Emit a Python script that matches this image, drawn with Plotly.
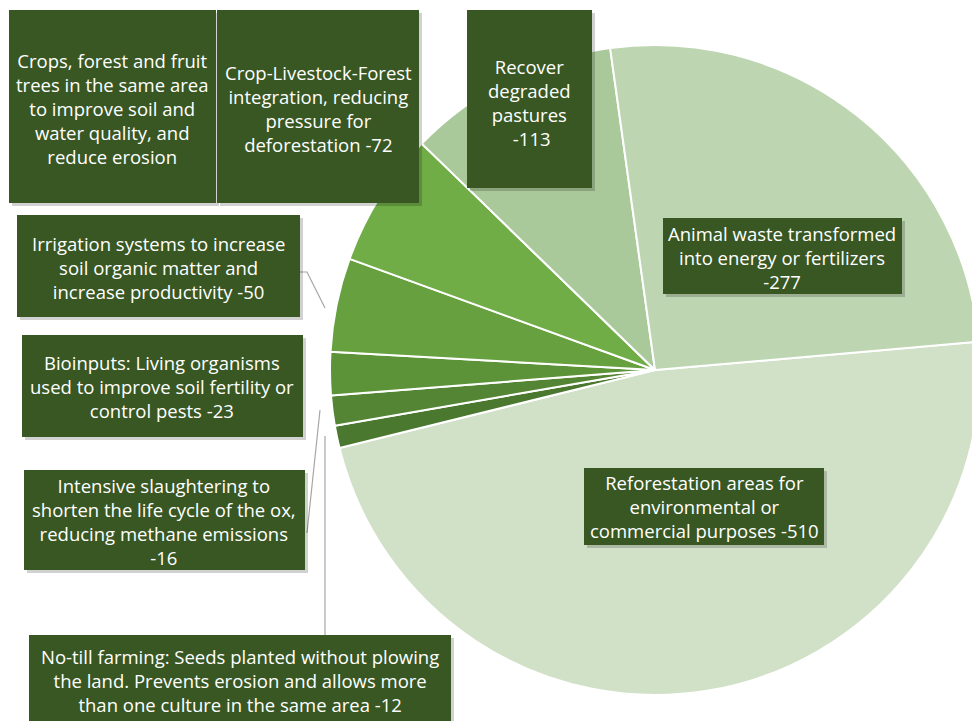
import plotly.graph_objects as go

# ---- data (values in the order drawn, clockwise) ----
categories = [
    "Reforestation areas for environmental or commercial purposes",
    "No-till farming",
    "Intensive slaughtering",
    "Bioinputs",
    "Irrigation systems",
    "Crop-Livestock-Forest integration",
    "Crops, forest and fruit trees in the same area",
    "Recover degraded pastures",
    "Animal waste transformed into energy or fertilizers",
]
values = [510, 12, 16, 23, 50, 72, 0, 113, 277]
colors = ["#d1e1c7", "#4a782e", "#538534", "#5c9338", "#66a03f",
          "#70ad47", "#8fbf72", "#a9c99a", "#bdd5b1"]

label_texts = [
    "Reforestation areas for<br>environmental or<br>commercial purposes -510",
    "No-till farming: Seeds planted without plowing<br>the land. Prevents erosion and allows more<br>than one culture in the same area -12",
    "Intensive slaughtering to<br>shorten the life cycle of the ox,<br>reducing methane emissions<br>-16",
    "Bioinputs: Living organisms<br>used to improve soil fertility or<br>control pests -23",
    "Irrigation systems to increase<br>soil organic matter and<br>increase productivity -50",
    "Crop-Livestock-Forest<br>integration, reducing<br>pressure for<br>deforestation -72",
    "Crops, forest and fruit<br>trees in the same area<br>to improve soil and<br>water quality, and<br>reduce erosion",
    "Recover<br>degraded<br>pastures<br> -113",
    "Animal waste transformed<br>into energy or fertilizers<br>-277",
]

# ---- layout helpers (screen px -> paper; page body has an 8px margin) ----
OFF = 8
W, H = 980 - OFF, 721 - OFF
def px(x):
    return (x - OFF) / W
def py(y):
    return 1 - (y - OFF) / H

CX, CY, R = 655, 370, 325
BOX = "#385723"

fig = go.Figure()
fig.add_trace(go.Pie(
    labels=categories,
    values=values,
    sort=False,
    direction="clockwise",
    rotation=85,
    marker=dict(colors=colors, line=dict(color="white", width=2)),
    textinfo="none",
    hoverinfo="label+value",
    showlegend=False,
    domain=dict(x=[px(CX - R), min(1.0, px(CX + R))], y=[py(CY + R), py(CY - R)]),
))

# label boxes: (x0, y0, x1, y1) in px, text center
boxes = [
    (584, 468, 824, 545),   # Reforestation
    (29, 635, 451, 730),    # No-till
    (24, 470, 305, 570),    # Intensive
    (22, 335, 303, 437),    # Bioinputs
    (17, 215, 300, 317),    # Irrigation
    (217, 10, 419, 203),    # Crop-Livestock-Forest
    (9, 10, 216, 203),      # Crops, forest and fruit trees
    (467, 10, 592, 188),    # Recover pastures
    (663, 218, 902, 294),   # Animal waste
]
text_centers = [
    (704, 507), (240, 680), (164, 521), (162, 386), (158, 267),
    (318, 108), (112, 108), (529, 103), (782, 257),
]

# leader lines (px)
leaders = [
    [(300, 272), (307, 272), (325, 308)],   # Irrigation
    [(307, 533), (320, 410)],               # Intensive
    [(325, 635), (325, 436)],               # No-till
]
for pts in leaders:
    path = "M " + " L ".join(f"{px(x)},{py(y)}" for x, y in pts)
    fig.add_shape(type="path", xref="paper", yref="paper", path=path,
                  line=dict(color="#a6a6a6", width=1.2))

for (x0, y0, x1, y1) in boxes:
    # soft shadow
    fig.add_shape(type="rect", xref="paper", yref="paper",
                  x0=px(x0 + 3), x1=px(x1 + 3), y0=py(y1 + 3), y1=py(y0 + 3),
                  fillcolor="rgba(0,0,0,0.18)", line=dict(width=0))
for (x0, y0, x1, y1) in boxes:
    fig.add_shape(type="rect", xref="paper", yref="paper",
                  x0=px(x0), x1=px(x1), y0=py(y1), y1=py(y0),
                  fillcolor=BOX, line=dict(width=0))

for txt, (tx, ty) in zip(label_texts, text_centers):
    fig.add_annotation(
        x=px(tx), y=py(ty), xref="paper", yref="paper",
        text=txt, showarrow=False, align="center",
        xanchor="center", yanchor="middle",
        font=dict(family="Open Sans, Lato, sans-serif", size=18.5, color="white"),
    )

fig.update_layout(
    width=W, height=H,
    margin=dict(l=0, r=0, t=0, b=0),
    paper_bgcolor="white",
    plot_bgcolor="white",
)

fig.write_html("out.html")
